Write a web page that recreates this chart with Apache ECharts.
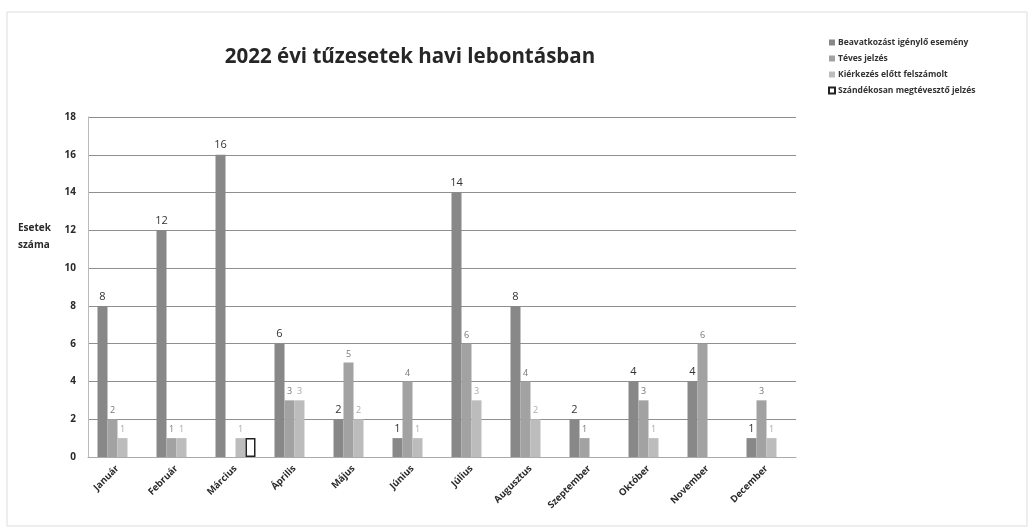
<!DOCTYPE html>
<html>
<head>
<meta charset="utf-8">
<script src="https://cdn.jsdelivr.net/npm/echarts@6/dist/echarts.min.js"></script>
<style>
html,body{margin:0;padding:0;background:#fff;}
#c{width:1033px;height:531px;}
</style>
</head>
<body>
<div id="c"></div>
<script>
const months = ['Január','Február','Március','Április','Május','Június','Július','Augusztus','Szeptember','Október','November','December'];
const seriesNames = ['Beavatkozást igénylő esemény','Téves jelzés','Kiérkezés előtt felszámolt','Szándékosan megtévesztő jelzés'];
const beavatkozas = [8, 12, 16, 6, 2, 1, 14, 8, 2, 4, 4, 1];
const teves = [2, 1, 0, 3, 5, 4, 6, 4, 1, 3, 6, 3];
const kierkezes = [1, 1, 1, 3, 2, 1, 3, 2, 0, 1, 0, 1];
const szandekos = [0, 0, 1, 0, 0, 0, 0, 0, 0, 0, 0, 0];
const yTicks = [0, 2, 4, 6, 8, 10, 12, 14, 16, 18];
const yAxisName = 'Esetek\nszáma';

const chart = echarts.init(document.getElementById('c'));
const FONT = '"Open Sans", "DejaVu Sans", sans-serif';
const toData = arr => arr.map(v => v === 0 ? '-' : v);
function lbl(color, size) {
  return {show: true, position: 'top', distance: 4, color: color, fontSize: size, fontFamily: FONT,
    formatter: p => (p.value === '-' || p.value === 0) ? '' : String(p.value)};
}
const option = {
  animation: false,
  backgroundColor: '#fff',
  textStyle: {fontFamily: FONT},
  title: {
    text: '2022 évi tűzesetek havi lebontásban',
    left: 405, top: 42, textAlign: 'center',
    textStyle: {fontSize: 20.5, fontWeight: 'bold', color: '#262626', fontFamily: FONT}
  },
  legend: {
    orient: 'vertical', left: 823, top: 33,
    itemWidth: 6, itemHeight: 6, itemGap: 7,
    icon: 'rect',
    textStyle: {fontSize: 8.5, fontWeight: 'bold', color: '#333', fontFamily: FONT, padding: [0,0,0,-2]},
    data: seriesNames
  },
  grid: {left: 88, right: 237, top: 117, bottom: 74, containLabel: false},
  xAxis: {
    type: 'category', data: months,
    axisLine: {show: true, lineStyle: {color: '#aaa'}},
    axisTick: {show: false},
    axisLabel: {rotate: 45, interval: 0, fontSize: 9.5, fontWeight: 'bold', color: '#2a2a2a', margin: 10, fontFamily: FONT}
  },
  yAxis: {
    type: 'value', min: 0, max: 18, interval: 2,
    axisLine: {show: true, lineStyle: {color: '#bbb'}},
    axisTick: {show: false},
    axisLabel: {fontSize: 10, fontWeight: 'bold', color: '#2a2a2a', margin: 12, fontFamily: FONT,
      formatter: v => yTicks.includes(v) ? String(v) : ''},
    splitLine: {show: true, lineStyle: {color: '#8f8f8f', width: 1}}
  },
  series: [
    {name: seriesNames[0], type: 'bar', data: toData(beavatkozas), barWidth: 10, barGap: '0%',
      itemStyle: {color: '#888888'}, label: lbl('#333', 11)},
    {name: seriesNames[1], type: 'bar', data: toData(teves), barWidth: 10,
      itemStyle: {color: '#a2a2a2'}, label: lbl('#777', 9)},
    {name: seriesNames[2], type: 'bar', data: toData(kierkezes), barWidth: 10,
      itemStyle: {color: '#bcbcbc'}, label: lbl('#aaa', 9)},
    {name: seriesNames[3], type: 'bar', data: toData(szandekos), barWidth: 10,
      itemStyle: {color: '#fff', borderColor: '#222', borderWidth: 1.5}, label: {show: false}}
  ],
  graphic: [
    {type: 'rect', shape: {x: 7, y: 12, width: 1020, height: 514}, style: {fill: 'none', stroke: '#ddd', lineWidth: 1}, silent: true},
    {type: 'text', left: 18, top: 220, silent: true,
      style: {text: yAxisName, fontSize: 10, fontWeight: 'bold', fill: '#2a2a2a', fontFamily: FONT, lineHeight: 17}}
  ]
};
chart.setOption(option);
</script>
</body>
</html>
